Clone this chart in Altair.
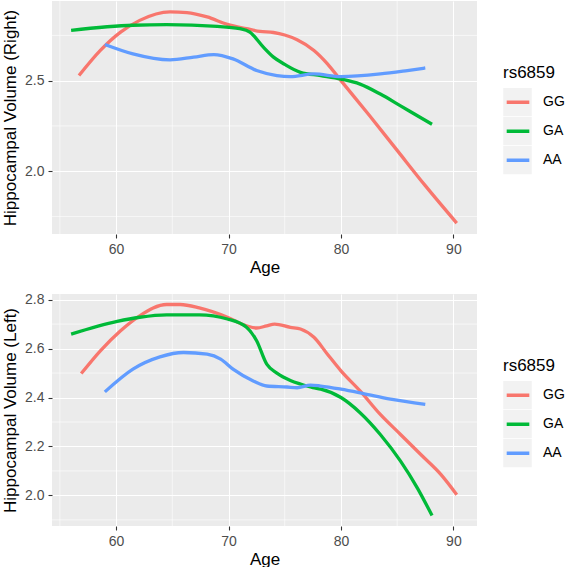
import altair as alt
import pandas as pd

GENOTYPES = ["GG", "GA", "AA"]
LINE_COLORS = ["#F8766D", "#00BA38", "#619CFF"]
KEY_SLOTS = [0, 1, 2]
PANEL_BG = "#EBEBEB"
KEY_BG = "#F2F2F2"
FONT = "Liberation Sans"

AGE_DOMAIN = [54.3, 92.1]
AGE_MAJOR = [60, 70, 80, 90]
AGE_MINOR = [55, 65, 75, 85]

# Right hippocampus: smoothed volume by age for each genotype
right_gg_age = [56.7, 58.6, 60.4, 62.1, 64.8, 66.3, 68.1, 69.9, 71.6, 72.8, 74.0, 75.0, 76.1, 77.6, 78.8, 80.0, 82.5, 85.0, 87.5, 90.3]
right_gg_vol = [2.528, 2.667, 2.768, 2.833, 2.880, 2.876, 2.852, 2.811, 2.787, 2.772, 2.766, 2.752, 2.726, 2.667, 2.593, 2.500, 2.310, 2.115, 1.920, 1.713]
right_ga_age = [56.0, 61.5, 64.5, 69.0, 71.0, 71.9, 73.1, 74.0, 75.0, 76.4, 78.2, 80.0, 81.7, 83.5, 85.3, 86.8, 88.1]
right_ga_vol = [2.778, 2.806, 2.809, 2.800, 2.787, 2.768, 2.685, 2.630, 2.590, 2.546, 2.528, 2.509, 2.481, 2.426, 2.361, 2.306, 2.259]
right_aa_age = [59.0, 61.5, 64.8, 66.9, 68.7, 70.4, 72.5, 74.3, 75.5, 77.6, 80.0, 83.5, 85.9, 87.5]
right_aa_vol = [2.700, 2.648, 2.615, 2.630, 2.644, 2.620, 2.556, 2.528, 2.522, 2.537, 2.522, 2.537, 2.556, 2.570]
right_y_domain = [1.653, 2.94]
right_y_major = [2.0, 2.5]
right_y_minor = [1.75, 2.25, 2.75]

# Left hippocampus
left_gg_age = [56.9, 58.6, 60.4, 62.1, 64.5, 65.7, 67.4, 69.9, 71.6, 72.5, 73.4, 74.1, 75.5, 76.4, 77.6, 78.8, 80.0, 81.7, 83.5, 85.3, 87.1, 88.9, 90.3]
left_gg_vol = [2.498, 2.591, 2.673, 2.734, 2.780, 2.780, 2.766, 2.728, 2.693, 2.684, 2.693, 2.700, 2.687, 2.680, 2.646, 2.577, 2.509, 2.427, 2.331, 2.249, 2.167, 2.085, 2.003]
left_ga_age = [56.0, 60.1, 62.1, 64.5, 67.4, 69.9, 71.6, 72.5, 73.4, 74.3, 75.5, 76.4, 77.5, 78.2, 80.0, 81.7, 83.5, 85.3, 86.8, 88.1]
left_ga_vol = [2.659, 2.711, 2.728, 2.738, 2.738, 2.721, 2.687, 2.632, 2.536, 2.500, 2.470, 2.455, 2.440, 2.434, 2.400, 2.338, 2.249, 2.140, 2.030, 1.918]
left_aa_age = [59.0, 61.5, 63.9, 66.0, 68.1, 69.3, 70.4, 72.2, 73.4, 75.2, 76.1, 77.3, 78.2, 80.0, 82.0, 84.4, 87.5]
left_aa_vol = [2.423, 2.516, 2.566, 2.584, 2.577, 2.557, 2.516, 2.468, 2.447, 2.443, 2.440, 2.451, 2.447, 2.434, 2.416, 2.393, 2.372]
left_y_domain = [1.875, 2.823]
left_y_major = [2.0, 2.2, 2.4, 2.6, 2.8]
left_y_minor = [1.9, 2.1, 2.3, 2.5, 2.7]


def curves(series):
    frames = [
        pd.DataFrame({"Age": ages, "Volume": vols, "rs6859": g})
        for g, (ages, vols) in zip(GENOTYPES, series)
    ]
    return pd.concat(frames, ignore_index=True)


def panel(df, y_title, y_domain, y_major, y_minor, height):
    x_scale = alt.Scale(domain=AGE_DOMAIN, nice=False, zero=False)
    y_scale = alt.Scale(domain=y_domain, nice=False, zero=False)
    x_axis = alt.Axis(values=AGE_MAJOR, title="Age", titlePadding=3)
    y_axis = alt.Axis(values=y_major, format=".1f", title=y_title, titlePadding=5)

    # thin minor grid lines
    minor_x = alt.Chart(pd.DataFrame({"Age": AGE_MINOR})).mark_rule(
        color="white", strokeWidth=0.6
    ).encode(x=alt.X("Age:Q", scale=x_scale, axis=x_axis))
    minor_y = alt.Chart(pd.DataFrame({"Volume": y_minor})).mark_rule(
        color="white", strokeWidth=0.6
    ).encode(y=alt.Y("Volume:Q", scale=y_scale, axis=y_axis))

    # grey key backgrounds sitting behind the legend lines
    keys = alt.Chart(pd.DataFrame({"slot": KEY_SLOTS})).mark_square(opacity=0).encode(
        fill=alt.Fill(
            "slot:O",
            scale=alt.Scale(domain=KEY_SLOTS, range=[KEY_BG] * 3),
            legend=alt.Legend(
                title=None, orient="none", legendX=451, legendY=87,
                symbolType="square", symbolSize=812, symbolStrokeWidth=0,
                symbolOpacity=1, labelExpr="''", clipHeight=28.5, rowPadding=0,
                zindex=0,
            ),
        )
    )

    lines = alt.Chart(df).mark_line(strokeWidth=3.3, interpolate="monotone").encode(
        x=alt.X("Age:Q", scale=x_scale, axis=x_axis),
        y=alt.Y("Volume:Q", scale=y_scale, axis=y_axis),
        color=alt.Color(
            "rs6859:N",
            scale=alt.Scale(domain=GENOTYPES, range=LINE_COLORS),
            legend=alt.Legend(
                title="rs6859", orient="none", legendX=451, legendY=64,
                symbolType="stroke", symbolSize=511, symbolStrokeWidth=3.3,
                symbolOffset=2, labelOffset=12, clipHeight=28.5, rowPadding=0,
                titlePadding=6, zindex=1,
            ),
        ),
        order="Age:Q",
    )
    return alt.layer(minor_x, minor_y, keys, lines).properties(
        width=425, height=height,
        view=alt.ViewBackground(fill=PANEL_BG, strokeWidth=0),
    )


right = panel(
    curves([(right_gg_age, right_gg_vol), (right_ga_age, right_ga_vol), (right_aa_age, right_aa_vol)]),
    "Hippocampal Volume (Right)", right_y_domain, right_y_major, right_y_minor, 233,
)
left = panel(
    curves([(left_gg_age, left_gg_vol), (left_ga_age, left_ga_vol), (left_aa_age, left_aa_vol)]),
    "Hippocampal Volume (Left)", left_y_domain, left_y_major, left_y_minor, 232,
)

chart = (
    alt.vconcat(right, left, spacing=17)
    .resolve_scale(x="independent", y="independent", color="independent", fill="independent")
    .resolve_legend(color="independent", fill="independent")
    .properties(padding={"left": 1, "top": 0, "right": 0, "bottom": 0}, background="white")
    .configure(font=FONT)
    .configure_view(fill=PANEL_BG, strokeWidth=0)
    .configure_axis(
        grid=True, gridColor="white", gridWidth=1.1, domain=False,
        tickColor="#333333", tickSize=4, tickWidth=1.1, labelPadding=4,
        labelColor="#4D4D4D", labelFontSize=14, labelFont=FONT,
        titleFont=FONT, titleFontSize=17, titleFontWeight="normal", titleColor="black",
    )
    .configure_legend(
        titleFont=FONT, titleFontSize=17, titleFontWeight="normal", titleColor="black",
        labelFont=FONT, labelFontSize=14, labelColor="black", padding=0,
    )
)

chart.save("out.html", embed_options={"renderer": "svg", "actions": False})
